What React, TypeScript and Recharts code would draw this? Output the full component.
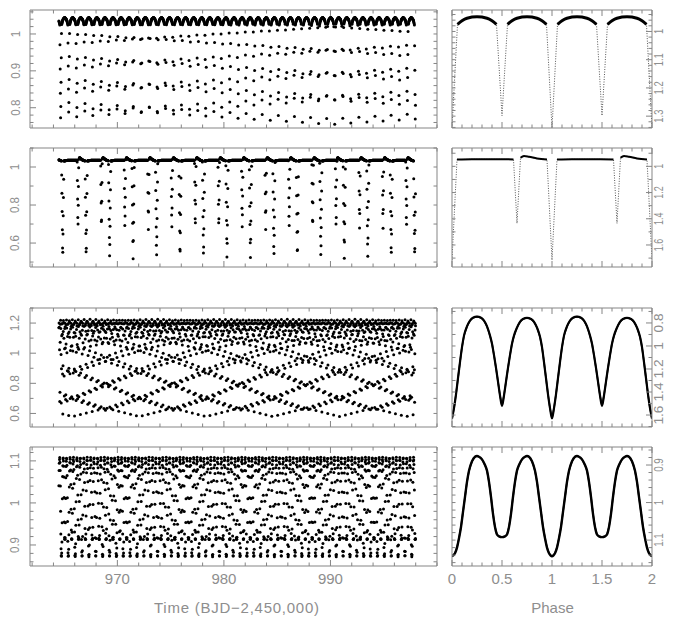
import React from "react";
import { ComposedChart, Scatter, Line, XAxis, YAxis } from "recharts";

// ---------- Kepler long-cadence sampling (Q1) ----------
const CADENCE = 0.020434;
const T_START = 964.51;
const N_SAMPLES = 1639;

// ---------- tick labels ----------
const timeTicks = [970, 980, 990];
const phaseTicks = [0, 0.5, 1, 1.5, 2];
const s1LeftTicks = [0.8, 0.9, 1];
const s1RightTicks = [1, 1.1, 1.2, 1.3];
const s2LeftTicks = [0.6, 0.8, 1];
const s2RightTicks = [1, 1.2, 1.4, 1.6];
const s3LeftTicks = [0.6, 0.8, 1, 1.2];
const s3RightTicks = [0.8, 1, 1.2, 1.4, 1.6];
const s4LeftTicks = [0.9, 1, 1.1];
const s4RightTicks = [0.9, 1, 1.1];

// ---------- star 1 (detached, equal eclipses) ----------
const s1Period = 1.513;
const s1Epoch = 964.679;
const s1Phase = [0, 0.055, 0.1, 0.15, 0.25, 0.35, 0.4, 0.445, 0.5, 0.555, 0.6, 0.65, 0.75, 0.85, 0.9, 0.945, 1];
const s1Flux = [0.755, 1.024, 1.034, 1.04, 1.045, 1.04, 1.034, 1.024, 0.77, 1.024, 1.034, 1.04, 1.045, 1.04, 1.034, 1.024, 0.755];
const s1Fold = [1.342, 0.975, 0.962, 0.953, 0.948, 0.953, 0.962, 0.975, 1.298, 0.975, 0.962, 0.953, 0.948, 0.953, 0.962, 0.975, 1.342];

// ---------- star 2 (eccentric detached) ----------
const s2Period = 2.2025;
const s2Epoch = 964.87;
const s2Phase = [0, 0.05, 0.2, 0.4, 0.615, 0.65, 0.685, 0.72, 0.77, 0.85, 0.95, 1];
const s2Flux = [0.515, 1.032, 1.035, 1.035, 1.035, 0.668, 1.04, 1.05, 1.044, 1.037, 1.032, 0.515];
const s2Fold = [1.715, 0.948, 0.946, 0.946, 0.947, 1.435, 0.935, 0.921, 0.927, 0.94, 0.948, 1.715];

// ---------- star 3 (overcontact) ----------
const s3Period = 0.27631;
const s3Epoch = 964.6;
const s3Phase = [0, 0.02, 0.04, 0.06, 0.08, 0.1, 0.12, 0.15, 0.18, 0.21, 0.25, 0.29, 0.32, 0.35, 0.38, 0.4, 0.42, 0.44, 0.46, 0.48, 0.5, 0.52, 0.54, 0.56, 0.58, 0.6, 0.62, 0.65, 0.68, 0.71, 0.75, 0.79, 0.82, 0.85, 0.88, 0.9, 0.92, 0.94, 0.96, 0.98, 1];
const s3Flux = [0.58, 0.64, 0.72, 0.82, 0.92, 1.01, 1.08, 1.14, 1.18, 1.21, 1.225, 1.21, 1.19, 1.15, 1.09, 1.04, 0.97, 0.89, 0.8, 0.7, 0.62, 0.7, 0.8, 0.89, 0.97, 1.04, 1.09, 1.14, 1.175, 1.195, 1.2, 1.195, 1.175, 1.14, 1.08, 1.01, 0.92, 0.82, 0.72, 0.64, 0.58];
const s3Fold = [1.63, 1.54, 1.42, 1.28, 1.14, 1.01, 0.91, 0.83, 0.78, 0.755, 0.745, 0.755, 0.78, 0.83, 0.91, 0.98, 1.08, 1.19, 1.31, 1.43, 1.52, 1.43, 1.31, 1.19, 1.08, 0.98, 0.91, 0.84, 0.79, 0.765, 0.755, 0.765, 0.79, 0.84, 0.92, 1.01, 1.14, 1.28, 1.42, 1.54, 1.63];

// ---------- star 4 (overcontact, total eclipse) ----------
const s4Period = 0.6448;
const s4Epoch = 964.75;
const s4Phase = [0, 0.03, 0.05, 0.07, 0.09, 0.11, 0.13, 0.15, 0.17, 0.2, 0.23, 0.25, 0.27, 0.3, 0.33, 0.35, 0.37, 0.39, 0.41, 0.43, 0.45, 0.47, 0.5, 0.53, 0.55, 0.57, 0.59, 0.61, 0.63, 0.65, 0.67, 0.7, 0.73, 0.75, 0.77, 0.8, 0.83, 0.85, 0.87, 0.89, 0.91, 0.93, 0.95, 0.97, 1];
const s4Flux = [0.872, 0.876, 0.886, 0.905, 0.93, 0.965, 1.0, 1.04, 1.068, 1.09, 1.105, 1.109, 1.105, 1.098, 1.085, 1.07, 1.045, 1.01, 0.97, 0.94, 0.918, 0.914, 0.913, 0.914, 0.918, 0.94, 0.97, 1.01, 1.045, 1.07, 1.085, 1.098, 1.105, 1.109, 1.105, 1.09, 1.068, 1.04, 1.0, 0.965, 0.93, 0.905, 0.886, 0.876, 0.872];
const s4Fold = [1.143, 1.135, 1.12, 1.095, 1.065, 1.025, 0.985, 0.945, 0.915, 0.89, 0.878, 0.876, 0.878, 0.885, 0.9, 0.915, 0.945, 0.985, 1.03, 1.065, 1.085, 1.09, 1.092, 1.09, 1.085, 1.065, 1.03, 0.985, 0.945, 0.915, 0.9, 0.885, 0.878, 0.876, 0.878, 0.89, 0.915, 0.945, 0.985, 1.025, 1.065, 1.095, 1.12, 1.135, 1.143];

// ---------- helpers ----------
const FRAME = "#858585";
const TEXT = "#8e8e8e";
const FONT = "'Liberation Sans', Arial, sans-serif";

function curveAt(ph: number, phases: number[], vals: number[]) {
  for (let k = 1; k < phases.length; k++) {
    if (ph <= phases[k]) {
      const a = phases[k - 1], b = phases[k];
      const w = (ph - a) / (b - a);
      return vals[k - 1] + (vals[k] - vals[k - 1]) * w;
    }
  }
  return vals[vals.length - 1];
}

function timeSeries(period: number, epoch: number, phases: number[], vals: number[]) {
  const out: { t: number; f: number }[] = [];
  for (let i = 0; i < N_SAMPLES; i++) {
    const t = T_START + i * CADENCE;
    let ph = ((t - epoch) / period) % 1;
    if (ph < 0) ph += 1;
    out.push({ t, f: curveAt(ph, phases, vals) });
  }
  return out;
}

function foldRows(phases: number[], vals: number[], thickBelow: number) {
  const rows: { phase: number; thin: number; thick: number | null }[] = [];
  for (let c = 0; c < 2; c++) {
    for (let k = 0; k < phases.length; k++) {
      const v = vals[k];
      rows.push({ phase: phases[k] + c, thin: v, thick: v < thickBelow ? v : null });
    }
  }
  return rows;
}

function makeTicks(domain: number[], step: number) {
  const out: number[] = [];
  const s = Math.ceil(domain[0] / step - 1e-9);
  const e = Math.floor(domain[1] / step + 1e-9);
  for (let k = s; k <= e; k++) out.push(Math.round(k * step * 1e6) / 1e6);
  return out;
}

const isMajor = (v: number, majors: number[]) => majors.some((m) => Math.abs(m - v) < 1e-6);
const MAJ = 6;
const MIN = 3.5;

function labelLength(s: string, unit: number) {
  let n = 0;
  for (const ch of s) n += ch === "." ? 0.5 : 1;
  return n * unit;
}

function xTick(majors: number[], side: "bottom" | "top", labels: boolean) {
  return (p: any) => {
    const { x, y, payload } = p;
    const v = payload.value;
    const maj = isMajor(v, majors);
    const dir = side === "bottom" ? -1 : 1;
    return (
      <g>
        <line x1={x} x2={x} y1={y} y2={y + dir * (maj ? MAJ : MIN)} stroke={FRAME} strokeWidth={1} />
        {labels && maj ? (
          <text x={x} y={y + 18} textAnchor="middle" fontSize={15} fill={TEXT} fontFamily={FONT}>
            {String(v)}
          </text>
        ) : null}
      </g>
    );
  };
}

function yTick(majors: number[], side: "left" | "right", unit: number) {
  return (p: any) => {
    const { x, y, payload } = p;
    const v = payload.value;
    const maj = isMajor(v, majors);
    const dir = side === "left" ? 1 : -1;
    const px = side === "left" ? x - 10.5 : x + 11;
    const s = String(v);
    return (
      <g>
        <line x1={x} x2={x + dir * (maj ? MAJ : MIN)} y1={y} y2={y} stroke={FRAME} strokeWidth={1} />
        {maj ? (
          <text
            x={px}
            y={y}
            transform={`rotate(-90, ${px}, ${y})`}
            textAnchor="middle"
            fontSize={12}
            fill={TEXT}
            fontFamily={FONT}
            textLength={labelLength(s, unit)}
            lengthAdjust="spacingAndGlyphs"
          >
            {s}
          </text>
        ) : null}
      </g>
    );
  };
}

const dotShape = (p: any) => <circle cx={p.cx} cy={p.cy} r={1.5} fill="#000" />;

const TIME_DOMAIN = [961.8, 1000];
const PHASE_DOMAIN = [0, 2];
const timeMinor = makeTicks(TIME_DOMAIN, 2);
const phaseMinor = makeTicks(PHASE_DOMAIN, 0.1);

type Panel = {
  top: number;
  h: number;
  series: { t: number; f: number }[];
  fold: { phase: number; thin: number; thick: number | null }[];
  lDom: number[];
  lMaj: number[];
  lStep: number;
  lUnit: number;
  rDom: number[];
  rMaj: number[];
  rStep: number;
  rUnit: number;
  wallDashed: boolean;
  thickW: number;
};

const panels: Panel[] = [
  {
    top: 10, h: 118,
    series: timeSeries(s1Period, s1Epoch, s1Phase, s1Flux),
    fold: foldRows(s1Phase, s1Fold, 1.0),
    lDom: [0.745, 1.065], lMaj: s1LeftTicks, lStep: 0.02, lUnit: 6.4,
    rDom: [0.924, 1.342], rMaj: s1RightTicks, rStep: 0.02, rUnit: 5.2,
    wallDashed: true, thickW: 3,
  },
  {
    top: 148, h: 119,
    series: timeSeries(s2Period, s2Epoch, s2Phase, s2Flux),
    fold: foldRows(s2Phase, s2Fold, 1.0),
    lDom: [0.474, 1.1], lMaj: s2LeftTicks, lStep: 0.1, lUnit: 6.4,
    rDom: [0.86, 1.768], rMaj: s2RightTicks, rStep: 0.1, rUnit: 5.0,
    wallDashed: true, thickW: 2,
  },
  {
    top: 308, h: 119,
    series: timeSeries(s3Period, s3Epoch, s3Phase, s3Flux),
    fold: foldRows(s3Phase, s3Fold, 99),
    lDom: [0.51, 1.3], lMaj: s3LeftTicks, lStep: 0.1, lUnit: 6.6,
    rDom: [0.67, 1.704], rMaj: s3RightTicks, rStep: 0.1, rUnit: 7.6,
    wallDashed: false, thickW: 2.2,
  },
  {
    top: 447, h: 119,
    series: timeSeries(s4Period, s4Epoch, s4Phase, s4Flux),
    fold: foldRows(s4Phase, s4Fold, 99),
    lDom: [0.85, 1.133], lMaj: s4LeftTicks, lStep: 0.02, lUnit: 6.4,
    rDom: [0.852, 1.169], rMaj: s4RightTicks, rStep: 0.02, rUnit: 5.4,
    wallDashed: false, thickW: 2.4,
  },
];

const axisCommon = {
  type: "number" as const,
  allowDataOverflow: true,
  interval: 0 as const,
  tickSize: 0,
  tickMargin: 0,
  axisLine: { stroke: FRAME, strokeWidth: 1 },
  tickLine: false,
};

function LeftPanel({ p, last }: { p: Panel; last: boolean }) {
  const MT = 20, MB = 50;
  const yt = makeTicks(p.lDom, p.lStep);
  return (
    <div style={{ position: "absolute", left: 0, top: p.top - MT }}>
      <ComposedChart width={445} height={p.h + MT + MB} margin={{ top: MT - 1, right: 7, bottom: MB - 1, left: 29 }}>
        <XAxis {...axisCommon} xAxisId="b" dataKey="t" domain={TIME_DOMAIN} ticks={timeMinor} height={1}
          orientation="bottom" tick={xTick(timeTicks, "bottom", last)} />
        <XAxis {...axisCommon} xAxisId="t" dataKey="t" domain={TIME_DOMAIN} ticks={timeMinor} height={1}
          orientation="top" tick={xTick(timeTicks, "top", false)} />
        <YAxis {...axisCommon} yAxisId="l" dataKey="f" domain={p.lDom} ticks={yt} width={1}
          orientation="left" tick={yTick(p.lMaj, "left", p.lUnit)} />
        <YAxis {...axisCommon} yAxisId="r" dataKey="f" domain={p.lDom} ticks={yt} width={1}
          orientation="right" tick={yTick([], "right", p.lUnit)} />
        <Scatter xAxisId="b" yAxisId="l" data={p.series} dataKey="f" shape={dotShape} isAnimationActive={false} />
      </ComposedChart>
    </div>
  );
}

function RightPanel({ p, last }: { p: Panel; last: boolean }) {
  const MT = 20, MB = 50;
  const yt = makeTicks(p.rDom, p.rStep);
  return (
    <div style={{ position: "absolute", left: 440, top: p.top - MT }}>
      <ComposedChart width={233} height={p.h + MT + MB} data={p.fold} margin={{ top: MT - 1, right: 20, bottom: MB - 1, left: 11 }}>
        <XAxis {...axisCommon} xAxisId="b" dataKey="phase" domain={PHASE_DOMAIN} ticks={phaseMinor} height={1}
          orientation="bottom" tick={xTick(phaseTicks, "bottom", last)} />
        <XAxis {...axisCommon} xAxisId="t" dataKey="phase" domain={PHASE_DOMAIN} ticks={phaseMinor} height={1}
          orientation="top" tick={xTick(phaseTicks, "top", false)} />
        <YAxis {...axisCommon} yAxisId="l" domain={p.rDom} reversed ticks={yt} width={1}
          orientation="left" tick={yTick([], "left", p.rUnit)} />
        <YAxis {...axisCommon} yAxisId="r" domain={p.rDom} reversed ticks={yt} width={1}
          orientation="right" tick={yTick(p.rMaj, "right", p.rUnit)} />
        <Line xAxisId="b" yAxisId="r" dataKey="thin" type="linear" stroke={p.wallDashed ? "#555" : "#111"}
          strokeWidth={p.wallDashed ? 1 : 1.6} strokeDasharray={p.wallDashed ? "1 1.5" : undefined}
          dot={false} activeDot={false} isAnimationActive={false} />
        <Line xAxisId="b" yAxisId="r" dataKey="thick" type="monotone" stroke="#000"
          strokeWidth={p.thickW} dot={false} activeDot={false} isAnimationActive={false} />
      </ComposedChart>
    </div>
  );
}

export default function App() {
  return (
    <div style={{ position: "absolute", left: 0, top: 0, width: 673, height: 617, background: "#fff" }}>
      {panels.map((p, i) => (
        <React.Fragment key={i}>
          <LeftPanel p={p} last={i === panels.length - 1} />
          <RightPanel p={p} last={i === panels.length - 1} />
        </React.Fragment>
      ))}
      <svg style={{ position: "absolute", left: 0, top: 0, pointerEvents: "none" }} width={673} height={617}>
        <text x={236.5} y={613} textAnchor="middle" fontSize={15} fill={TEXT} fontFamily={FONT}
          textLength={165} lengthAdjust="spacing">
          Time (BJD−2,450,000)
        </text>
        <text x={552.5} y={613} textAnchor="middle" fontSize={15} fill={TEXT} fontFamily={FONT}>
          Phase
        </text>
      </svg>
    </div>
  );
}
